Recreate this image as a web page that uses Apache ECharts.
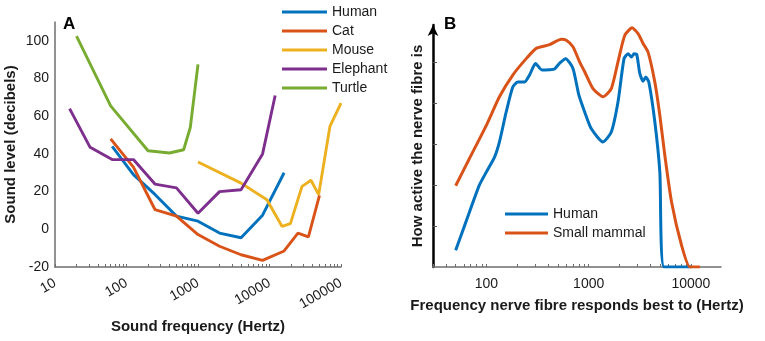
<!DOCTYPE html>
<html><head><meta charset="utf-8">
<script src="https://cdn.jsdelivr.net/npm/echarts@6/dist/echarts.min.js"></script>
<style>html,body{margin:0;padding:0;background:#fff}#c{width:765px;height:341px}</style>
</head><body><div id="c"></div>
<script>
// ---- Panel A: hearing thresholds ----
const humanAF = [63, 125, 250, 500, 1000, 2000, 4000, 8000, 16000];
const humanADb = [44, 29, 18.5, 7, 4.3, -2, -4.5, 7.5, 30];
const catF = [60, 125, 250, 500, 1000, 2000, 4000, 8000, 16000, 25000, 35000, 50000];
const catDb = [48, 33, 10.5, 7, -2.8, -9, -13.5, -16.5, -11.5, -2, -4, 18];
const mouseF = [1000, 4000, 9200, 15000, 19600, 28500, 38000, 48700, 70000, 100000];
const mouseDb = [35.7, 24.5, 15.7, 1.5, 3, 22.8, 26, 18.4, 54.6, 67];
const elephantF = [16, 31, 63, 125, 250, 500, 1000, 2000, 4000, 8000, 12000];
const elephantDb = [64, 43.5, 37, 37, 24, 22, 8.5, 20, 21, 40, 71];
const turtleF = [20, 60, 200, 400, 630, 780, 1000];
const turtleDb = [102.5, 65.5, 41.7, 40.5, 42.2, 54, 87.5];
const yTicksA = [-20, 0, 20, 40, 60, 80, 100];
const xLabelsA = [10, 100, 1000, 10000, 100000];

// ---- Panel B: nerve fibre activity ----
const humanBF = [50, 63, 85, 100, 120, 134, 156, 181, 203, 236, 264, 302, 351, 414, 464, 520, 596, 702, 800, 914, 1062, 1380, 1665, 1935, 2218, 2428, 2620, 2780, 2953, 3162, 3405, 3620, 3875, 4436, 4965, 5470, 10160];
const humanBV = [0.41, 1.10, 1.99, 2.32, 2.68, 3.05, 3.78, 4.39, 4.51, 4.51, 4.68, 4.96, 4.80, 4.81, 4.83, 4.97, 5.08, 4.84, 4.2, 3.78, 3.37, 3.05, 3.29, 4.02, 5.08, 5.20, 5.12, 5.20, 5.18, 4.72, 4.53, 4.63, 4.51, 3.54, 2.32, 0, 0];
const mammalF = [50, 68, 100, 134, 181, 245, 307, 414, 540, 604, 702, 815, 914, 1102, 1380, 1665, 1935, 2256, 2660, 3043, 3405, 3810, 4436, 4965, 5560, 6460, 8100, 9780, 12240];
const mammalV = [1.98, 2.64, 3.46, 4.15, 4.68, 5.08, 5.33, 5.42, 5.55, 5.53, 5.37, 5.0, 4.76, 4.35, 4.15, 4.35, 5.0, 5.65, 5.83, 5.69, 5.45, 5.24, 4.51, 3.70, 2.72, 1.59, 0.53, 0, 0];
const xLabelsB = [100, 1000, 10000];
const yTicksB = [1, 2, 3, 4, 5];

function logTicks(lo, hi) {
  const t = [];
  for (let d = lo; d < hi; d *= 10) for (let k = 1; k < 10; k++) t.push(d * k);
  t.push(hi);
  return t;
}
const xTicksA = logTicks(10, 100000);
const xTicksB = logTicks(10, 100000).filter(v => v >= 30 && v <= 19000);

const pairs = (xs, ys) => xs.map((x, i) => [x, ys[i]]);
const FONT = 'Liberation Sans, Arial, sans-serif';
const C = { blue: '#0072BD', red: '#D95319', yellow: '#EDB120', purple: '#7E2F8E', green: '#77AC30' };
const gray = '#6e6e6e';
const txt = '#1a1a1a';

function lineA(name, xs, ys, color) {
  return { name, type: 'line', xAxisIndex: 0, yAxisIndex: 0, data: pairs(xs, ys), symbol: 'none',
    lineStyle: { color, width: 2.9 }, itemStyle: { color }, animation: false, z: 3 };
}
function lineB(name, xs, ys, color) {
  return { name, type: 'line', xAxisIndex: 1, yAxisIndex: 1, data: pairs(xs, ys), symbol: 'none', smooth: 0.2,
    lineStyle: { color, width: 3 }, itemStyle: { color }, animation: false, z: 3 };
}
const legendItems = names => names.map(n => ({ name: n, icon: 'rect' }));

const chart = echarts.init(document.getElementById('c'), null, { renderer: 'canvas' });
chart.setOption({
  animation: false,
  textStyle: { fontFamily: FONT },
  title: [
    { text: 'A', left: 58, top: 11, textStyle: { fontSize: 17, fontWeight: 'bold', color: '#000', fontFamily: FONT } },
    { text: 'B', left: 439, top: 11, textStyle: { fontSize: 17, fontWeight: 'bold', color: '#000', fontFamily: FONT } }
  ],
  legend: [
    { data: legendItems(['Human', 'Cat', 'Mouse', 'Elephant', 'Turtle']), orient: 'vertical', left: 277, top: 0,
      itemWidth: 45, itemHeight: 3, itemGap: 5, textStyle: { fontSize: 14, color: txt, fontFamily: FONT, lineHeight: 14 }, selectedMode: false },
    { data: legendItems(['Human ', 'Small mammal']), orient: 'vertical', left: 500, top: 202,
      itemWidth: 43, itemHeight: 3, itemGap: 5, textStyle: { fontSize: 14, color: txt, fontFamily: FONT, lineHeight: 14 }, selectedMode: false }
  ],
  grid: [
    { left: 55, top: 22, width: 286, height: 245 },
    { left: 433, top: 25, width: 288, height: 242 }
  ],
  xAxis: [
    { type: 'log', gridIndex: 0, min: 10, max: 100000, logBase: 10,
      axisLine: { onZero: false, lineStyle: { color: gray, width: 1.5 } },
      axisTick: { show: true, inside: true, length: 3, customValues: xTicksA, lineStyle: { color: gray } },
      axisLabel: { customValues: xLabelsA, formatter: v => String(Math.round(v)), rotate: 30, margin: 15, fontSize: 14, color: txt, fontFamily: FONT },
      splitLine: { show: false },
      name: 'Sound frequency (Hertz)', nameLocation: 'middle', nameGap: 52,
      nameTextStyle: { fontSize: 15, fontWeight: 'bold', color: txt, fontFamily: FONT } },
    { type: 'log', gridIndex: 1, min: 30, max: 19700, logBase: 10,
      axisLine: { onZero: false, lineStyle: { color: gray, width: 1.5 } },
      axisTick: { show: true, inside: true, length: 3, customValues: xTicksB, lineStyle: { color: gray } },
      axisLabel: { customValues: xLabelsB, formatter: v => String(Math.round(v)), margin: 10, fontSize: 14, color: txt, fontFamily: FONT },
      splitLine: { show: false },
      name: 'Frequency nerve fibre responds best to (Hertz)', nameLocation: 'middle', nameGap: 31,
      nameTextStyle: { fontSize: 15, fontWeight: 'bold', color: txt, fontFamily: FONT } }
  ],
  yAxis: [
    { type: 'value', gridIndex: 0, min: -20, max: 110, interval: 20,
      axisLine: { show: true, onZero: false, lineStyle: { color: gray, width: 1.5 } },
      axisTick: { show: false },
      axisLabel: { customValues: yTicksA, margin: 6, fontSize: 14, color: txt, fontFamily: FONT },
      splitLine: { show: false },
      name: 'Sound level (decibels)', nameLocation: 'middle', nameGap: 37,
      nameTextStyle: { fontSize: 15, fontWeight: 'bold', color: txt, fontFamily: FONT } },
    { type: 'value', gridIndex: 1, min: 0, max: 5.9,
      axisLine: { show: true, onZero: false, symbol: ['none', 'arrow'], symbolSize: [8, 11], lineStyle: { color: '#000', width: 2.5 } },
      axisTick: { show: true, inside: true, length: 4, customValues: yTicksB, lineStyle: { color: '#555' } },
      axisLabel: { show: false },
      splitLine: { show: false },
      name: 'How active the nerve fibre is', nameLocation: 'middle', nameGap: 8,
      nameTextStyle: { fontSize: 15, fontWeight: 'bold', color: txt, fontFamily: FONT } }
  ],
  series: [
    lineA('Human', humanAF, humanADb, C.blue),
    lineA('Cat', catF, catDb, C.red),
    lineA('Mouse', mouseF, mouseDb, C.yellow),
    lineA('Elephant', elephantF, elephantDb, C.purple),
    lineA('Turtle', turtleF, turtleDb, C.green),
    lineB('Human ', humanBF, humanBV, C.blue),
    lineB('Small mammal', mammalF, mammalV, C.red)
  ]
});
</script></body></html>
